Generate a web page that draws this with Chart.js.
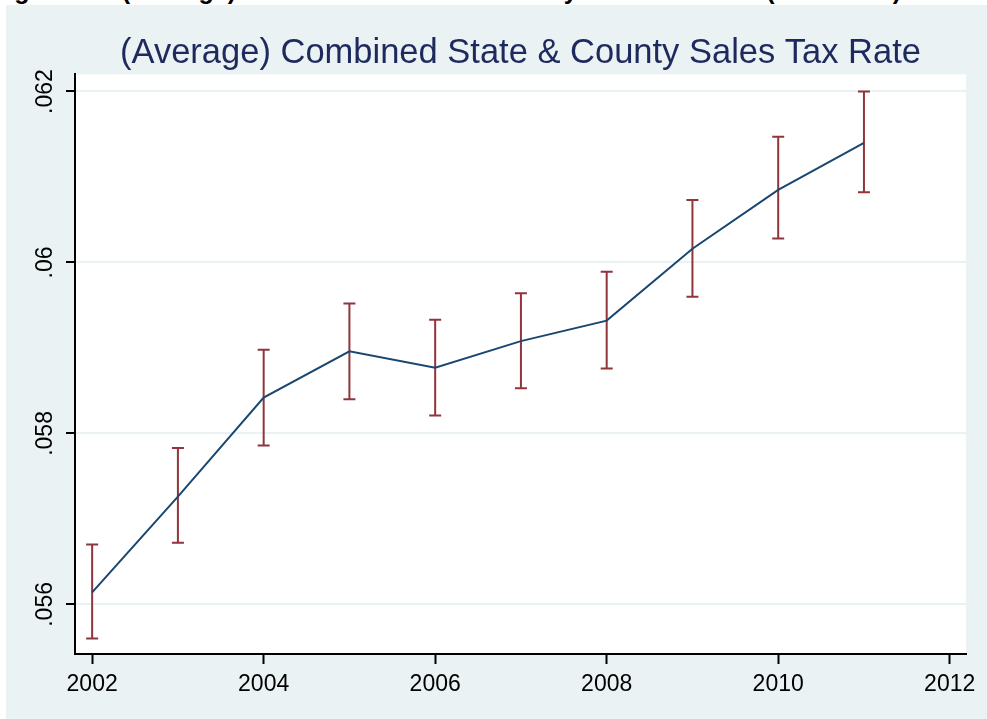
<!DOCTYPE html>
<html>
<head>
<meta charset="utf-8">
<script src="https://cdn.jsdelivr.net/npm/chart.js@4.4.0/dist/chart.umd.min.js"></script>
<style>
  html, body { margin: 0; padding: 0; background: #ffffff; }
  body { width: 987px; height: 719px; position: relative; overflow: hidden; }
  #caption {
    position: absolute; left: -8px; top: -22px; white-space: nowrap;
    font: bold 25px/25px "Liberation Sans", Arial, sans-serif; color: #000;
  }
  #wrap {
    position: absolute; left: 6px; top: 5px; width: 981px; height: 714px;
    background: #eaf2f3;
  }
</style>
</head>
<body>
<div id="caption">Figure A1: (Average) Combined State and County Sales Tax Rate (2002-2011)</div>
<div id="wrap"><canvas id="taxChart" width="981" height="714"></canvas></div>
<script>
var years = [2002, 2003, 2004, 2005, 2006, 2007, 2008, 2009, 2010, 2011];
var taxRate = [0.05614, 0.05726, 0.05842, 0.05896, 0.05877, 0.05908, 0.05932, 0.06016, 0.06085, 0.06140];
var ciUpper = [0.05670, 0.05783, 0.05898, 0.05952, 0.05933, 0.05964, 0.05989, 0.06073, 0.06147, 0.06200];
var ciLower = [0.05560, 0.05672, 0.05786, 0.05840, 0.05821, 0.05853, 0.05876, 0.05960, 0.06028, 0.06082];
var xTicks = [2002, 2004, 2006, 2008, 2010, 2012];
var yTicks = [0.056, 0.058, 0.06, 0.062];

var fontFamily = '"Liberation Sans", Arial, sans-serif';

// white plot region
var plotBackground = {
    id: 'plotBackground',
    beforeDraw: function (chart) {
        var a = chart.chartArea;
        var ctx = chart.ctx;
        ctx.save();
        ctx.fillStyle = '#ffffff';
        ctx.fillRect(a.left, a.top, a.right - a.left, a.bottom - a.top);
        ctx.restore();
    }
};

// confidence interval caps
var errorBars = {
    id: 'errorBars',
    beforeDatasetsDraw: function (chart) {
        var xs = chart.scales.x, ys = chart.scales.y;
        var ctx = chart.ctx;
        ctx.save();
        ctx.strokeStyle = '#90353b';
        ctx.lineWidth = 2;
        for (var i = 0; i < years.length; i++) {
            var px = xs.getPixelForValue(years[i]);
            var top = ys.getPixelForValue(ciUpper[i]);
            var bot = ys.getPixelForValue(ciLower[i]);
            ctx.beginPath();
            ctx.moveTo(px, top); ctx.lineTo(px, bot);
            ctx.moveTo(px - 6, top); ctx.lineTo(px + 6, top);
            ctx.moveTo(px - 6, bot); ctx.lineTo(px + 6, bot);
            ctx.stroke();
        }
        ctx.restore();
    }
};

document.addEventListener('DOMContentLoaded', function () {
    var ctx = document.getElementById('taxChart').getContext('2d');
    new Chart(ctx, {
        type: 'line',
        data: {
            datasets: [{
                label: 'Tax rate',
                data: years.map(function (yr, i) { return { x: yr, y: taxRate[i] }; }),
                borderColor: '#1a476f',
                borderWidth: 2,
                pointRadius: 0,
                tension: 0,
                fill: false
            }]
        },
        options: {
            responsive: false,
            animation: false,
            layout: { padding: { left: 0, right: 21, top: 0, bottom: 0 } },
            plugins: {
                legend: { display: false },
                tooltip: { enabled: false },
                title: {
                    display: true,
                    fullSize: false,
                    text: '(Average) Combined State & County Sales Tax Rate',
                    color: '#1e2a5e',
                    font: { family: fontFamily, size: 34.5, weight: 'normal', lineHeight: 1.2 },
                    padding: { top: 28, bottom: 0 }
                }
            },
            scales: {
                x: {
                    type: 'linear',
                    min: 2001.8,
                    max: 2012.19,
                    afterBuildTicks: function (scale) {
                        scale.ticks = xTicks.map(function (v) { return { value: v }; });
                    },
                    afterFit: function (scale) { scale.height = 65; },
                    ticks: {
                        color: '#000',
                        font: { family: fontFamily, size: 23 },
                        padding: 7,
                        maxRotation: 0,
                        autoSkip: false,
                        callback: function (v) { return String(v); }
                    },
                    grid: {
                        drawOnChartArea: false,
                        tickColor: '#000',
                        tickWidth: 2,
                        tickLength: 10
                    },
                    border: { color: '#000', width: 2 }
                },
                y: {
                    type: 'linear',
                    min: 0.05542,
                    max: 0.0622,
                    afterBuildTicks: function (scale) {
                        scale.ticks = yTicks.map(function (v) { return { value: v }; });
                    },
                    afterFit: function (scale) { scale.width = 69; },
                    ticks: {
                        color: '#000',
                        font: { family: fontFamily, size: 23 },
                        minRotation: 90,
                        maxRotation: 90,
                        crossAlign: 'center',
                        padding: -2,
                        autoSkip: false,
                        callback: function (v) { return String(v).replace(/^0/, ''); }
                    },
                    grid: {
                        color: '#eaf2f3',
                        lineWidth: 2,
                        tickColor: '#000',
                        tickWidth: 2,
                        tickLength: 9
                    },
                    border: { color: '#000', width: 2 }
                }
            }
        },
        plugins: [plotBackground, errorBars]
    });
});
</script>
</body>
</html>
